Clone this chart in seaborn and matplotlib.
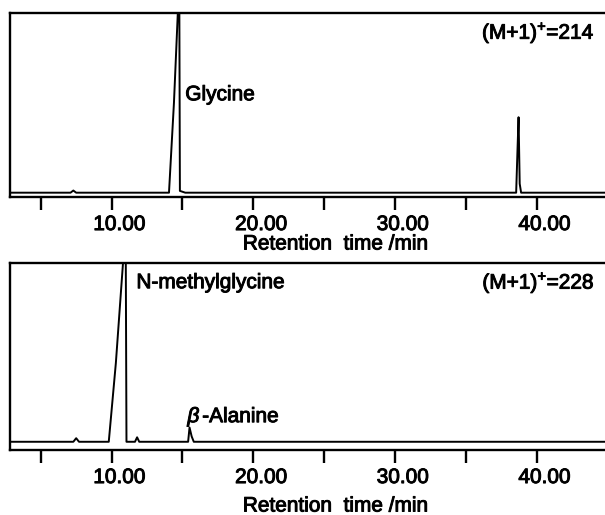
import numpy as np
import pandas as pd
import matplotlib
matplotlib.use("Agg")
import matplotlib.pyplot as plt
import matplotlib.transforms as mtransforms
import matplotlib.patheffects as pe
import seaborn as sns

# ---- data (retention time in min, relative intensity) ----
time_214 = [2.8, 7.1, 7.3, 7.5, 14.05, 14.4, 14.70, 14.78, 14.82, 15.2,
            38.55, 38.65, 38.72, 38.8, 38.9, 44.9]
int_214 = [0.0, 0.0, 0.012, 0.0, 0.0, 0.50, 1.05, 1.05, 0.01, 0.0,
           0.0, 0.25, 0.42, 0.05, 0.0, 0.0]

time_228 = [2.8, 7.3, 7.5, 7.7, 9.80, 10.30, 10.85, 11.00, 11.05, 11.65, 11.8, 11.95, 15.40,
            15.50, 15.65, 15.8, 44.9]
int_228 = [0.0, 0.0, 0.02, 0.0, 0.0, 0.44, 1.05, 1.05, 0.0, 0.0, 0.025, 0.0, 0.0,
           0.08, 0.03, 0.0, 0.0]

major_ticks = [10, 20, 30, 40]
minor_ticks = [5, 15, 25, 35]
tick_labels = ["10.00", "20.00", "30.00", "40.00"]
xlabel_text = "Retention  time /min"

sns.set_style("ticks")
plt.rcParams["font.family"] = ["Liberation Sans", "DejaVu Sans"]
plt.rcParams["text.color"] = "black"
plt.rcParams["mathtext.fontset"] = "custom"
plt.rcParams["mathtext.rm"] = "Liberation Sans"
plt.rcParams["mathtext.it"] = "Liberation Sans:italic"

fig = plt.figure(figsize=(6.05, 5.15), dpi=100)
ax1 = fig.add_axes([10 / 605, 1 - 197 / 515, 1 - 10 / 605, (197 - 13) / 515])
ax2 = fig.add_axes([10 / 605, 1 - 450 / 515, 1 - 10 / 605, (450 - 263) / 515])

df1 = pd.DataFrame({"t": time_214, "i": int_214})
df2 = pd.DataFrame({"t": time_228, "i": int_228})

sns.lineplot(data=df1, x="t", y="i", ax=ax1, color="black", lw=1.4, sort=False, estimator=None)
sns.lineplot(data=df2, x="t", y="i", ax=ax2, color="black", lw=1.4, sort=False, estimator=None)

fs = 15
heavy = [pe.withStroke(linewidth=0.7, foreground="black")]
offset = mtransforms.ScaledTranslation(8 / 100, 0, fig.dpi_scale_trans)
for ax, ybot in [(ax1, -0.024), (ax2, -0.046)]:
    ax.set_xlim(2.83, 44.82)
    ax.set_ylim(ybot, 1.0)
    for s in ["left", "top", "bottom"]:
        ax.spines[s].set_linewidth(1.7)
        ax.spines[s].set_color("black")
    ax.spines["right"].set_visible(False)
    ax.set_yticks([])
    ax.set_ylabel("")
    ax.set_xticks(major_ticks)
    ax.set_xticklabels(tick_labels, fontsize=fs, color="black")
    ax.set_xticks(minor_ticks, minor=True)
    ax.tick_params(axis="x", which="both", direction="out", length=9, width=1.7,
                   pad=4, colors="black")
    for lab in ax.get_xticklabels():
        lab.set_transform(lab.get_transform() + offset)
        lab.set_path_effects(heavy)
    ax.set_xlabel(xlabel_text, fontsize=fs, color="black", labelpad=0)
    ax.xaxis.label.set_path_effects(heavy)
    ax.patch.set_alpha(0)

ax1.xaxis.set_label_coords((336 - 10) / 595, -(244 - 197) / 184)
ax2.xaxis.set_label_coords((336 - 10) / 595, -(506 - 450) / 187)
ax1.xaxis.label.set_va("center")
ax2.xaxis.label.set_va("center")

kw = dict(fontsize=fs, color="black", va="center", path_effects=heavy)
ax1.text(15.2, 0.545, "Glycine", ha="left", **kw)
ax1.text(44.1, 0.89, r"(M+1)$^{+}$=214", ha="right", **kw)
ax2.text(11.75, 0.89, "N-methylglycine", ha="left", **kw)
ax2.text(15.35, 0.14, r"$\mathit{\beta}\,$-Alanine", ha="left", **kw)
ax2.text(44.1, 0.89, r"(M+1)$^{+}$=228", ha="right", **kw)

fig.savefig("out.png", dpi=100)
